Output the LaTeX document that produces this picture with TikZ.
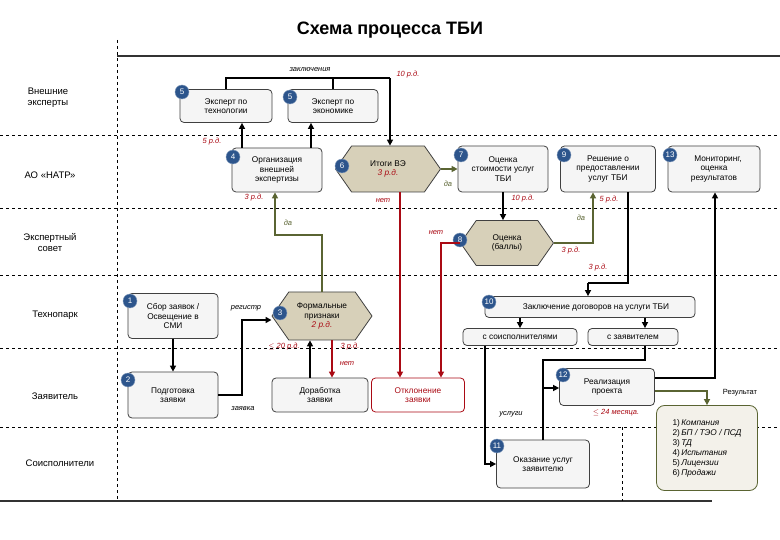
\documentclass[tikz,border=0pt]{standalone}
\usepackage{fontspec}
\setmainfont{Liberation Sans}
\usetikzlibrary{shapes.symbols,arrows.meta,positioning,calc}
\definecolor{numblue}{RGB}{45,85,140}
\definecolor{hexfill}{RGB}{215,208,185}
\definecolor{olive}{RGB}{90,100,50}
\definecolor{dred}{RGB}{170,10,20}
\begin{document}
\begin{tikzpicture}[x=1pt,y=-1pt,font=\fontsize{8.3}{9.6}\selectfont,
  box/.style={draw=black!75,thick,rounded corners=4pt,fill=gray!8,align=center,inner sep=1pt},
  hex/.style={draw=black!75,thick,fill=hexfill,shape=signal,signal to=west and east,signal pointer angle=110,align=center,inner sep=1pt},
  num/.style={circle,fill=numblue,draw=numblue!60,text=white,minimum size=14pt,inner sep=0pt,font=\fontsize{8}{9}\selectfont},
  lane/.style={align=center,font=\fontsize{9.5}{11}\selectfont},
  lbl/.style={font=\fontsize{7.5}{8.5}\itshape},
  rl/.style={lbl,text=dred},
  ar/.style={-{Triangle[length=6pt,width=6pt]},line width=1.6pt},
  gar/.style={ar,draw=olive},
  rar/.style={ar,draw=dred},
  dsh/.style={dashed,thin,black}]
\useasboundingbox (0,0) rectangle (780,540);
\fill[white] (0,0) rectangle (780,540);
\node[font=\bfseries\fontsize{18}{21}\selectfont] (title) at (390,30) {Схема процесса ТБИ};
\draw[line width=1.5pt,black!80] (117,56) -- (780,56);
\draw[line width=1.5pt,black!80] (0,501) -- (712,501);
\foreach \y in {135,208,275,348,427} \draw[dsh] (0,\y) -- (780,\y);
\draw[dsh] (117,40) -- (117,501);
\draw[dsh] (622,427) -- (622,501);
% lanes
\node[lane] (l1) at (48,98) {Внешние\\эксперты};
\node[lane] (l2) at (50,175) {АО «НАТР»};
\node[lane] (l3) at (50,243) {Экспертный\\совет};
\node[lane] (l4) at (55,315) {Технопарк};
\node[lane] (l5) at (55,396) {Заявитель};
\node[lane] (l6) at (60,463) {Соисполнители};
% boxes
\node[box,minimum width=92pt,minimum height=33pt] (b5a) at (226,106) {Эксперт по\\технологии};
\node[box,minimum width=90pt,minimum height=33pt] (b5b) at (333,106) {Эксперт по\\экономике};
\node[box,minimum width=90pt,minimum height=44pt] (b4) at (277,170) {Организация\\внешней\\экспертизы};
\node[hex,minimum width=105pt,minimum height=46pt] (h6) at (388,169) {Итоги ВЭ\\{\itshape\color{dred}3 р.д.}};
\node[box,minimum width=90pt,minimum height=46pt] (b7) at (503,169) {Оценка\\стоимости услуг\\ТБИ};
\node[box,minimum width=95pt,minimum height=46pt] (b9) at (608,169) {Решение о\\предоставлении\\услуг ТБИ};
\node[box,minimum width=92pt,minimum height=46pt] (b13) at (714,169) {\hspace{8pt}Мониторинг,\\оценка\\результатов};
\node[hex,minimum width=93pt,minimum height=45pt] (h8) at (507,243) {Оценка\\(баллы)};
\node[box,minimum width=90pt,minimum height=45pt] (b1) at (173,316) {Сбор заявок /\\Освещение в\\СМИ};
\node[hex,minimum width=100pt,minimum height=48pt] (h3) at (322,316) {Формальные\\признаки\\{\itshape\color{dred}2 р.д.}};
\node[box,minimum width=210pt,minimum height=21pt] (b10) at (590,307) {\hspace{12pt}Заключение договоров на услуги ТБИ};
\node[box,minimum width=114pt,minimum height=17pt] (bs) at (520,337) {с соисполнителями};
\node[box,minimum width=90pt,minimum height=17pt] (bz) at (633,337) {с заявителем};
\node[box,minimum width=90pt,minimum height=46pt] (b2) at (173,395) {Подготовка\\заявки};
\node[box,minimum width=96pt,minimum height=34pt] (bd) at (320,395) {Доработка\\заявки};
\node[box,draw=dred,text=dred,fill=white,minimum width=93pt,minimum height=34pt] (bo) at (418,395) {Отклонение\\заявки};
\node[box,minimum width=95pt,minimum height=37pt] (b12) at (607,387) {Реализация\\проекта};
\node[box,minimum width=93pt,minimum height=48pt] (b11) at (543,464) {Оказание услуг\\заявителю};
\node[box,draw=olive,fill=hexfill!30,rounded corners=8pt,minimum width=101pt,minimum height=85pt,align=left,font=\fontsize{8.3}{10}\selectfont] (res) at (707,448) {1)\,\textit{Компания}\\2)\,\textit{БП / ТЭО / ПСД}\\3)\,\textit{ТД}\\4)\,\textit{Испытания}\\5)\,\textit{Лицензии}\\6)\,\textit{Продажи}};
% numbers
\node[num] (n5a) at (182,92) {5};
\node[num] (n5b) at (290,97) {5};
\node[num] (n4) at (233,157) {4};
\node[num] (n6) at (342,166) {6};
\node[num] (n7) at (461,155) {7};
\node[num] (n9) at (564,155) {9};
\node[num] (n13) at (670,155) {13};
\node[num] (n8) at (460,240) {8};
\node[num] (n1) at (130,301) {1};
\node[num] (n3) at (280,313) {3};
\node[num] (n10) at (489,302) {10};
\node[num] (n2) at (128,380) {2};
\node[num] (n12) at (563,375) {12};
\node[num] (n11) at (497,446) {11};
% connectors
\coordinate (ctop) at (390,78);
\draw[line width=1.6pt] (b5a.north) |- (ctop);
\draw[line width=1.6pt] (b5b.north) -- (b5b.north|-ctop);
\draw[ar] (ctop) -- (h6.north-|ctop);
\draw[ar] (b4.north-|242,0) -- (b5a.south-|242,0);
\draw[ar] (b4.north-|311,0) -- (b5b.south-|311,0);
\draw[gar] (h6.east) -- (b7.west);
\draw[ar] (b7.south) -- (h8.north-|b7.south);
\draw[rar] (h6.south-|400,0) -- (bo.north-|400,0);
\draw[rar] (h8.west) -| (bo.north-|441,0);
\draw[gar] (h8.east) -| (b9.south-|593,0);
\draw[gar] (h3.north) |- (275,235) -- (b4.south-|275,0);
\draw[line width=1.6pt] (b9.south-|628,0) |- (588,283);
\draw[ar] (588,283) -- (b10.north-|588,0);
\draw[ar] (b10.south-|520,0) -- (bs.north-|520,0);
\draw[ar] (b10.south-|645,0) -- (bz.north-|645,0);
\draw[ar] (bs.south-|485,0) |- (b11.west);
\draw[line width=1.6pt] (bz.south-|645,0) |- (543,360) -- (b11.north-|543,0);
\draw[ar] (543,388) -- (b12.west|-543,388);
\draw[ar] (b12.east|-0,378) -| (b13.south-|715,0);
\draw[gar] (b12.east|-0,391) -| (res.north);
\draw[ar] (b1.south) -- (b2.north);
\draw[ar] (b2.east) -| (242,320) -- (h3.west|-0,320);
\draw[rar] (h3.south-|332,0) -- (bd.north-|332,0);
\draw[ar] (bd.north-|310,0) -- (h3.south-|310,0);
% labels
\node[lbl] (t1) at (310,70) {заключения};
\node[rl] (t2) at (408,75) {10 р.д.};
\node[rl] (t3) at (212,142) {5 р.д.};
\node[rl] (t4) at (254,198) {3 р.д.};
\node[lbl,text=olive] (t5) at (288,223) {да};
\node[rl] (t6) at (383,201) {нет};
\node[lbl,text=olive] (t7) at (448,184) {да};
\node[rl] (t8) at (523,199) {10 р.д.};
\node[rl] (t9) at (436,233) {нет};
\node[lbl,text=olive] (t10) at (581,218) {да};
\node[rl] (t11) at (571,251) {3 р.д.};
\node[rl] (t12) at (609,200) {5 р.д.};
\node[rl] (t13) at (598,268) {3 р.д.};
\node[lbl] (t14) at (246,308) {регистр};
\node[lbl] (t15) at (243,409) {заявка};
\node[rl] (t16) at (284,347) {$\le$ 20 р.д.};
\node[rl] (t17) at (350,347) {3 р.д.};
\node[rl] (t18) at (347,364) {нет};
\node[lbl] (t19) at (511,414) {услуги};
\node[rl] (t20) at (616,413) {$\le$ 24 месяца.};
\node[font=\fontsize{7.5}{8.5}\selectfont] (t21) at (740,393) {Результат};
\end{tikzpicture}
\end{document}
